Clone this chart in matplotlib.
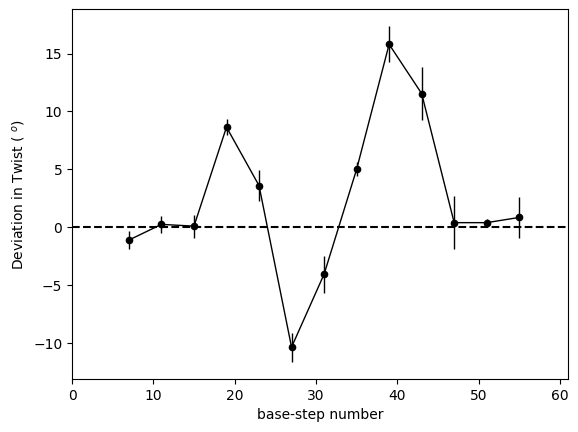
import matplotlib
matplotlib.use('Agg')
import matplotlib.pyplot as plt
import numpy as np

steps = [7, 11, 15, 19, 23, 27, 31, 35, 39, 43, 47, 51, 55]
twist_dev = [-1.1, 0.25, 0.1, 8.65, 3.6, -10.35, -4.05, 5.0, 15.8, 11.55, 0.4, 0.4, 0.85]
twist_err = [0.8, 0.75, 1.0, 0.7, 1.35, 1.25, 1.6, 0.6, 1.55, 2.3, 2.3, 0.3, 1.75]


def main():
    fig = plt.figure(figsize=(5.78, 4.32), dpi=100)
    ax = fig.add_axes([0.1246, 0.1227, 0.8581, 0.8565])
    ax.errorbar(steps, twist_dev, yerr=twist_err, fmt='o-', c='k',
                lw=1.0, ms=4.5, elinewidth=1.0)
    ax.axhline(0, c='k', ls='--', lw=1.5)
    ax.set_xlim(0, 61)
    ax.set_ylim(-13.1, 18.85)
    ax.set_xticks(np.arange(0, 61, 10))
    ax.set_xlabel('base-step number')
    ax.set_ylabel('Deviation in Twist ( $^o$)')
    fig.savefig('out.png', dpi=100)


if __name__ == '__main__':
    main()
